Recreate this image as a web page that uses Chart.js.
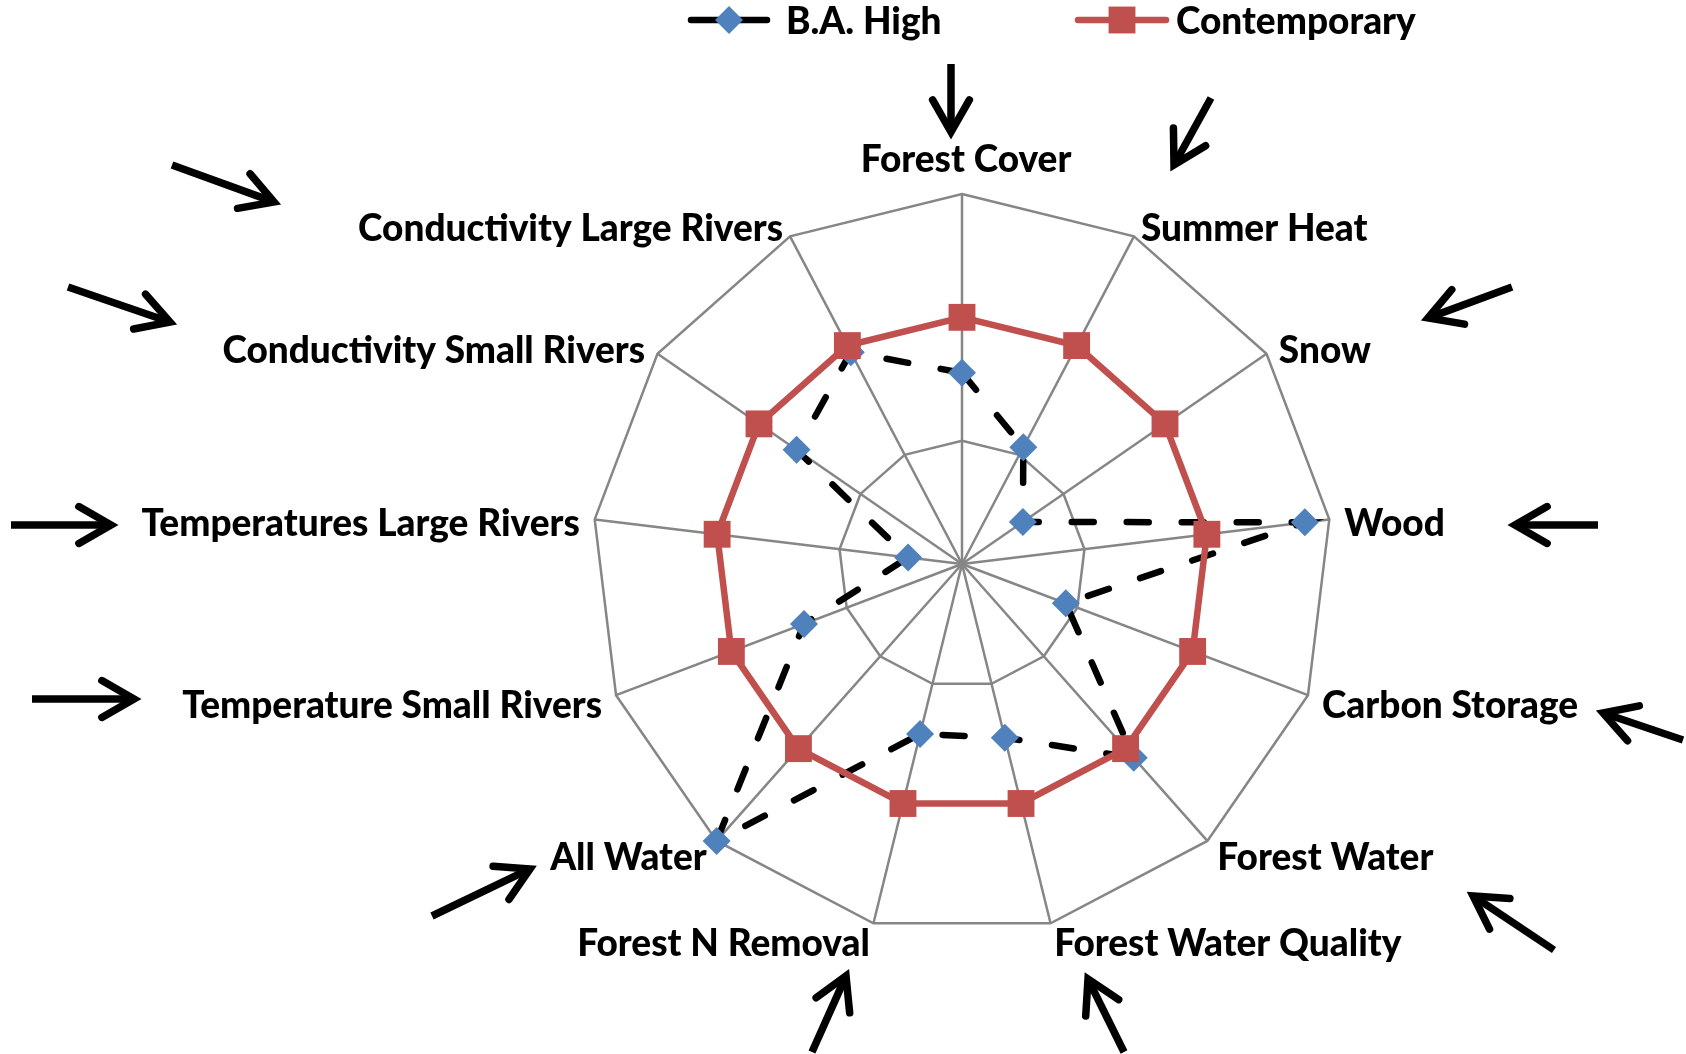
<!DOCTYPE html>
<html>
<head>
<meta charset="utf-8">
<title>Radar</title>
<script src="https://cdn.jsdelivr.net/npm/chart.js@4.4.1/dist/chart.umd.min.js"></script>
<style>
  html, body { margin: 0; padding: 0; background: #fff; }
  canvas { display: block; }
</style>
</head>
<body>
<canvas id="radar" width="1686" height="1054"></canvas>
<script>
// axes, clockwise from the top
const categories = [
  'Forest Cover', 'Summer Heat', 'Snow', 'Wood', 'Carbon Storage',
  'Forest Water', 'Forest Water Quality', 'Forest N Removal', 'All Water',
  'Temperature Small Rivers', 'Temperatures Large Rivers',
  'Conductivity Small Rivers', 'Conductivity Large Rivers'
];
const baHigh = [1.55, 1.07, 0.6, 2.8, 0.9, 2.1, 1.45, 1.42, 3.0, 1.37, 0.44, 1.63, 1.94];
const contemporary = [2, 2, 2, 2, 2, 2, 2, 2, 2, 2, 2, 2, 2];
const ringMax = 3;

// arrows pointing at the axis names: [tailX, tailY, tipX, tipY]
const arrows = [
  [951, 64, 951, 132],
  [1211, 98, 1174, 165],
  [1512, 287, 1428, 318],
  [1598, 525, 1515, 525],
  [1683, 740, 1603, 713],
  [1554, 950, 1473, 896],
  [1124, 1052, 1088, 979],
  [812, 1052, 846, 976],
  [432, 916, 530, 869],
  [32, 699, 134, 699],
  [11, 525, 111, 525],
  [68, 287, 170, 322],
  [172, 165, 274, 202]
];

const FONT = '900 37px Lato';
const GRID = '#868686';

// axis names around the outer ring
const axisNames = {
  id: 'axisNames',
  afterDatasetsDraw(chart) {
    const r = chart.scales.r;
    const ctx = chart.ctx;
    ctx.save();
    ctx.font = FONT;
    ctx.fillStyle = '#000';
    chart.data.labels.forEach((name, i) => {
      const p = r.getPointPosition(i, r.drawingArea + 15);
      const deg = (r.getIndexAngle(i) * 180 / Math.PI) % 360;
      if (deg < 1 || deg > 359) {
        ctx.textAlign = 'center';
        ctx.textBaseline = 'alphabetic';
        ctx.fillText(name, p.x + 4, p.y - 7);
      } else {
        ctx.textAlign = deg < 180 ? 'left' : 'right';
        ctx.textBaseline = 'middle';
        ctx.fillText(name, p.x, p.y + 6);
      }
    });
    ctx.restore();
  }
};

// line-and-marker legend across the top
const legendRow = {
  id: 'legendRow',
  afterDraw(chart) {
    const ctx = chart.ctx;
    const slots = [{x: 688, w: 82, text: 786}, {x: 1075, w: 94, text: 1176}];
    const y = 20;
    ctx.save();
    chart.data.datasets.forEach((ds, i) => {
      const s = slots[i];
      ctx.strokeStyle = ds.borderColor;
      ctx.lineWidth = ds.borderWidth;
      ctx.lineCap = 'round';
      ctx.beginPath();
      ctx.moveTo(s.x + 3, y);
      ctx.lineTo(s.x + s.w - 3, y);
      ctx.stroke();
      ctx.fillStyle = ds.pointBackgroundColor;
      Chart.helpers.drawPoint(ctx, {
        pointStyle: ds.pointStyle, radius: ds.pointRadius, rotation: 0, borderWidth: 0
      }, s.x + s.w / 2, y);
      ctx.fillStyle = '#000';
      ctx.font = FONT;
      ctx.textAlign = 'left';
      ctx.textBaseline = 'middle';
      ctx.fillText(ds.label, s.text, y + 2);
    });
    ctx.restore();
  }
};

// black arrows with open heads
const pointerArrows = {
  id: 'pointerArrows',
  afterDraw(chart) {
    const ctx = chart.ctx;
    ctx.save();
    ctx.strokeStyle = '#000';
    ctx.lineWidth = 7.5;
    arrows.forEach(([x1, y1, x2, y2]) => {
      const a = Math.atan2(y2 - y1, x2 - x1);
      const len = 37, spread = 0.52;
      ctx.lineCap = 'butt';
      ctx.beginPath();
      ctx.moveTo(x1, y1);
      ctx.lineTo(x2 - 4 * Math.cos(a), y2 - 4 * Math.sin(a));
      ctx.stroke();
      ctx.lineCap = 'round';
      ctx.lineJoin = 'miter';
      ctx.beginPath();
      ctx.moveTo(x2 - len * Math.cos(a - spread), y2 - len * Math.sin(a - spread));
      ctx.lineTo(x2, y2);
      ctx.lineTo(x2 - len * Math.cos(a + spread), y2 - len * Math.sin(a + spread));
      ctx.stroke();
    });
    ctx.restore();
  }
};

new Chart(document.getElementById('radar'), {
  type: 'radar',
  data: {
    labels: categories,
    datasets: [
      {
        label: 'B.A. High',
        data: baHigh,
        borderColor: '#000000',
        borderWidth: 6.5,
        borderDash: [22, 33],
        borderCapStyle: 'round',
        pointStyle: 'rectRot',
        pointRadius: 14,
        pointBackgroundColor: '#4F81BD',
        pointBorderWidth: 0,
        fill: false,
        order: 1
      },
      {
        label: 'Contemporary',
        data: contemporary,
        borderColor: '#C0504D',
        borderWidth: 6.5,
        pointStyle: 'rect',
        pointRadius: 19,
        pointBackgroundColor: '#C0504D',
        pointBorderWidth: 0,
        fill: false,
        order: 0
      }
    ]
  },
  options: {
    responsive: false,
    animation: false,
    layout: { padding: { left: 592, right: 354, top: 194, bottom: 120 } },
    plugins: {
      legend: { display: false },
      tooltip: { enabled: false }
    },
    scales: {
      r: {
        min: 0,
        max: ringMax,
        ticks: { stepSize: 1, display: false },
        grid: { color: GRID, lineWidth: 2.5 },
        angleLines: { color: GRID, lineWidth: 2.5 },
        pointLabels: { display: false }
      }
    }
  },
  plugins: [axisNames, legendRow, pointerArrows]
});
</script>
</body>
</html>
